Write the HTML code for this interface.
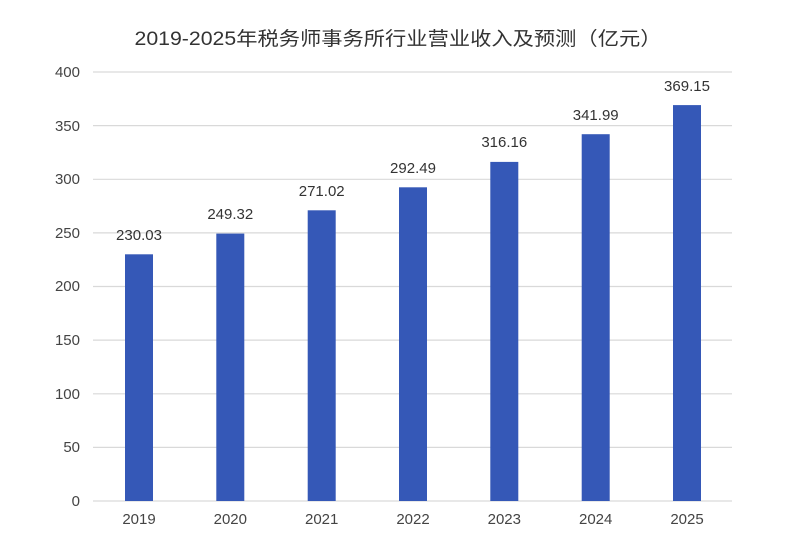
<!DOCTYPE html>
<html><head><meta charset="utf-8"><style>
html,body{margin:0;padding:0;background:#fff;}
svg{display:block;font-family:"Liberation Sans","Noto Sans CJK SC",sans-serif;}
</style></head><body>
<svg width="800" height="548" viewBox="0 0 800 548">
<rect width="800" height="548" fill="#fff"/>
<text x="398" y="45" text-anchor="middle" font-size="19" fill="#333" textLength="527" lengthAdjust="spacingAndGlyphs">2019-2025年税务师事务所行业营业收入及预测（亿元）</text>
<g stroke="#d9d9d9" stroke-width="1.2">
<line x1="93" x2="732" y1="72" y2="72"/>
<line x1="93" x2="732" y1="125.6" y2="125.6"/>
<line x1="93" x2="732" y1="179.3" y2="179.3"/>
<line x1="93" x2="732" y1="232.9" y2="232.9"/>
<line x1="93" x2="732" y1="286.5" y2="286.5"/>
<line x1="93" x2="732" y1="340.1" y2="340.1"/>
<line x1="93" x2="732" y1="393.8" y2="393.8"/>
<line x1="93" x2="732" y1="447.4" y2="447.4"/>
<line x1="93" x2="732" y1="501" y2="501"/>
</g>
<g font-size="15" fill="#444" text-anchor="end">
<text x="80" y="77">400</text>
<text x="80" y="131">350</text>
<text x="80" y="184">300</text>
<text x="80" y="238">250</text>
<text x="80" y="291">200</text>
<text x="80" y="345">150</text>
<text x="80" y="399">100</text>
<text x="80" y="452">50</text>
<text x="80" y="506">0</text>
</g>
<g fill="#3558b7">
<rect x="125" y="254.3" width="28" height="246.7"/>
<rect x="216.3" y="233.6" width="28" height="267.4"/>
<rect x="307.7" y="210.3" width="28" height="290.7"/>
<rect x="399" y="187.3" width="28" height="313.7"/>
<rect x="490.3" y="161.9" width="28" height="339.1"/>
<rect x="581.7" y="134.2" width="28" height="366.8"/>
<rect x="673" y="105.1" width="28" height="395.9"/>
</g>
<g font-size="15" fill="#333" text-anchor="middle">
<text x="139" y="240">230.03</text>
<text x="230.3" y="219">249.32</text>
<text x="321.7" y="196">271.02</text>
<text x="413" y="173">292.49</text>
<text x="504.3" y="147">316.16</text>
<text x="595.7" y="120">341.99</text>
<text x="687" y="91">369.15</text>
</g>
<g font-size="15" fill="#444" text-anchor="middle">
<text x="139" y="524">2019</text>
<text x="230.3" y="524">2020</text>
<text x="321.7" y="524">2021</text>
<text x="413" y="524">2022</text>
<text x="504.3" y="524">2023</text>
<text x="595.7" y="524">2024</text>
<text x="687" y="524">2025</text>
</g>
</svg>
</body></html>
